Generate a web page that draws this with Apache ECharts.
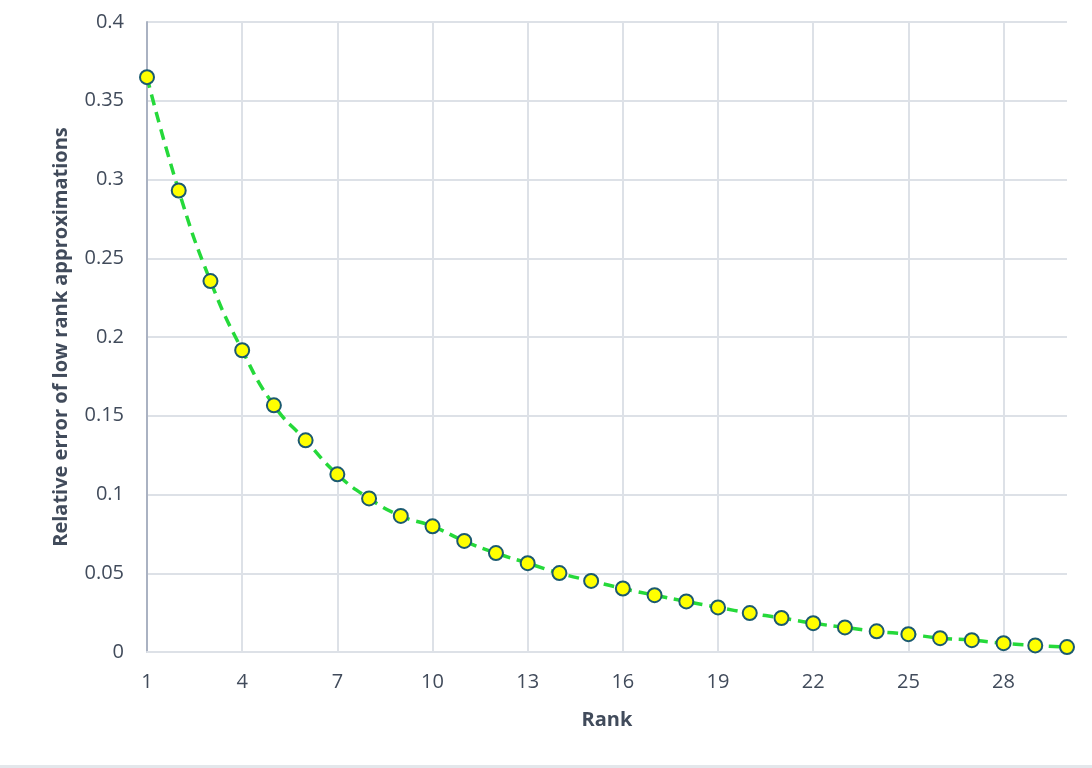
<!DOCTYPE html>
<html>
<head>
<meta charset="utf-8">
<script src="https://cdn.jsdelivr.net/npm/echarts@6/dist/echarts.min.js"></script>
<style>
  html, body { margin: 0; padding: 0; background: #fff; }
  #main { width: 1092px; height: 768px; }
</style>
</head>
<body>
<div id="main"></div>
<script>
// ranks on the x axis
var ranks = ['1', '2', '3', '4', '5', '6', '7', '8', '9', '10',
  '11', '12', '13', '14', '15', '16', '17', '18', '19', '20',
  '21', '22', '23', '24', '25', '26', '27', '28', '29', '30']
// relative error
var relErrors = [0.365, 0.293, 0.2355, 0.1916, 0.1566, 0.1344, 0.1128, 0.0975, 0.0864, 0.0798,
  0.0705, 0.0628, 0.0564, 0.0501, 0.0451, 0.0403, 0.0361, 0.0321, 0.0283, 0.0247,
  0.0216, 0.0183, 0.0156, 0.0131, 0.0113, 0.0088, 0.0075, 0.0056, 0.0042, 0.0031]

var textColor = '#414b5b'
var gridColor = '#dde1e7'
var fontName = 'Open Sans'

var myChart = echarts.init(document.getElementById('main'))
var option = {
  animation: false,
  backgroundColor: '#ffffff',
  grid: {
    left: 147,
    right: 25,
    top: 22,
    bottom: 116,
    containLabel: false
  },
  graphic: [
    {
      // thin border line at the bottom of the picture
      type: 'rect',
      left: 0,
      bottom: 0,
      shape: { width: 1092, height: 3 },
      style: { fill: '#e3e7eb' }
    }
  ],
  xAxis: {
    type: 'category',
    data: ranks,
    boundaryGap: false,
    name: 'Rank',
    nameLocation: 'middle',
    nameGap: 58,
    nameTextStyle: { color: textColor, fontSize: 20, fontWeight: 'bold', fontFamily: fontName },
    axisLine: { lineStyle: { color: gridColor, width: 2 } },
    axisTick: { show: false },
    axisLabel: {
      interval: 2,
      color: textColor,
      fontSize: 20,
      fontFamily: fontName,
      margin: 20
    },
    splitLine: {
      show: true,
      interval: 2,
      lineStyle: { color: gridColor, width: 2 }
    }
  },
  yAxis: {
    type: 'value',
    min: 0,
    max: 0.4,
    interval: 0.05,
    name: 'Relative error of low rank approximations',
    nameLocation: 'middle',
    nameGap: 76,
    nameTextStyle: { color: textColor, fontSize: 20, fontWeight: 'bold', fontFamily: fontName },
    axisLine: { show: true, lineStyle: { color: '#aab2c2', width: 2 } },
    axisTick: { show: false },
    axisLabel: {
      color: textColor,
      fontSize: 20,
      fontFamily: fontName,
      margin: 23
    },
    splitLine: { lineStyle: { color: gridColor, width: 2 } }
  },
  series: [
    {
      name: 'Relative error',
      type: 'line',
      data: relErrors,
      smooth: true,
      symbol: 'circle',
      symbolSize: 14,
      lineStyle: { color: '#25d93a', width: 3.5, type: [11, 7] },
      itemStyle: { color: '#ffff00', borderColor: '#1b5a70', borderWidth: 2 }
    }
  ]
}
myChart.setOption(option)
</script>
</body>
</html>
